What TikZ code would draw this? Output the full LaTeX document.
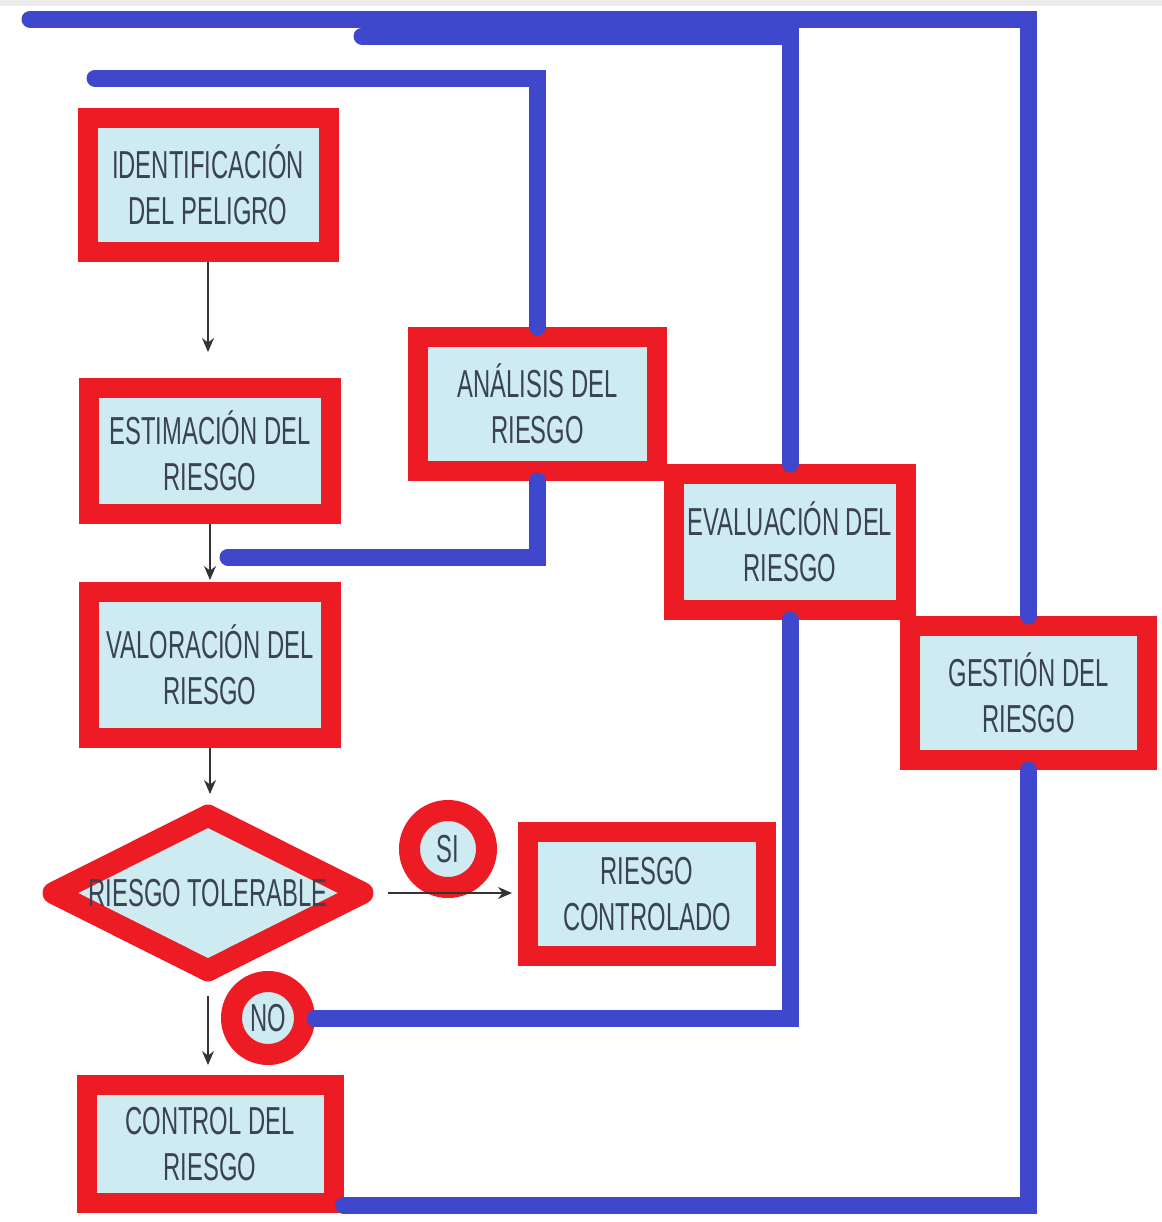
\documentclass[tikz,border=0pt]{standalone}
\usepackage{fontspec}
\setmainfont[FakeStretch=0.61]{Liberation Sans}
\usetikzlibrary{shapes.geometric,arrows.meta}
\definecolor{rojo}{HTML}{ED1C24}
\definecolor{azul}{HTML}{3F48CC}
\definecolor{celeste}{HTML}{CDEBF1}
\definecolor{texto}{HTML}{3A4254}
\tikzset{
  caja/.style={rectangle, draw=rojo, line width=10pt, fill=celeste, align=center,
    inner sep=0pt, text=texto, font=\fontsize{19.5}{23}\selectfont},
  rombo/.style={diamond, draw=rojo, line width=11pt, line join=round, fill=celeste,
    inner sep=0pt, text=texto, font=\fontsize{19.5}{23}\selectfont},
  circulo/.style={circle, draw=rojo, line width=10.5pt, fill=celeste,
    inner sep=0pt, text=texto, font=\fontsize{19.5}{23}\selectfont},
  enlace/.style={draw=azul, line width=8.5pt, line cap=round},
  flecha/.style={draw=black!80, line width=0.75pt, -{Stealth[length=7pt,width=6pt]}}
}

\begin{document}
\begin{tikzpicture}[x=0.5pt,y=-0.5pt]
\useasboundingbox (0,0) rectangle (1162,1222);
\fill[gray!15] (0,0) rectangle (1162,6);
% Cajas
\node[caja, minimum width=120.5pt, minimum height=67pt] (iden) at (208,185) {IDENTIFICACIÓN\\DEL PELIGRO};
\node[caja, minimum width=121pt, minimum height=63pt] (esti) at (210,451) {ESTIMACIÓN DEL\\RIESGO};
\node[caja, minimum width=121pt, minimum height=73pt] (valo) at (210,665) {VALORACIÓN DEL\\RIESGO};
\node[caja, minimum width=119.5pt, minimum height=67pt] (anal) at (537.5,404) {ANÁLISIS DEL\\RIESGO};
\node[caja, minimum width=116pt, minimum height=68pt] (eval) at (790,542) {EVALUACIÓN DEL\\RIESGO};
\node[caja, minimum width=118.5pt, minimum height=67pt] (gest) at (1028.5,693) {GESTIÓN DEL\\RIESGO};
\node[caja, minimum width=119pt, minimum height=62pt] (ctrl) at (647,894) {RIESGO\\CONTROLADO};
\node[caja, minimum width=123.5pt, minimum height=59pt] (cont) at (210,1144) {CONTROL DEL\\RIESGO};
% Decision
\node[rombo, minimum width=159pt, minimum height=82pt] (dia) at (208,893) {\makebox[0pt]{RIESGO TOLERABLE}};
\node[circulo, minimum size=38.5pt] (si) at (448,849) {SI};
\node[circulo, minimum size=36.5pt] (no) at (268,1018) {NO};
% Lineas azules
\coordinate (p1) at (30,19);
\coordinate (p2) at (362,36);
\coordinate (p3) at (95,78);
\coordinate (p4) at (228,557);
\draw[enlace] (gest.north) |- (p1);
\draw[enlace] (eval.north) |- (p2);
\draw[enlace] (anal.north) |- (p3);
\draw[enlace] (anal.south) |- (p4);
\draw[enlace] (eval.south) |- (no.east);
\draw[enlace] (gest.south) |- ([yshift=4pt]cont.south east);
% Flechas
\draw[flecha, shorten >=13pt] (iden.south) -- (iden.south |- esti.north);
\draw[flecha, shorten >=1pt] (esti.south) -- (valo.north);
\draw[flecha, shorten >=3pt] (valo.south) -- (valo.south |- dia.north);
\draw[flecha, shorten <=5pt, shorten >=3pt] (dia.east) -- (dia.east -| ctrl.west);
\draw[flecha, shorten <=5pt, shorten >=5pt] (dia.south) -- (dia.south |- cont.north);
\end{tikzpicture}
\end{document}
